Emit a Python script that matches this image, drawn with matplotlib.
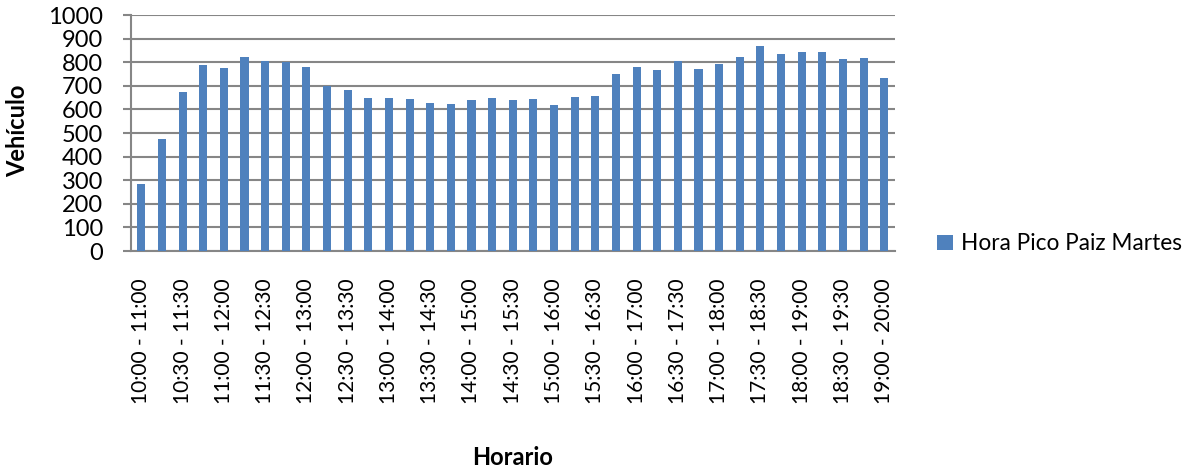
import matplotlib; matplotlib.use('Agg')
import matplotlib.pyplot as plt

categorias = ['10:00 - 11:00', '10:15 - 11:15', '10:30 - 11:30', '10:45 - 11:45',
              '11:00 - 12:00', '11:15 - 12:15', '11:30 - 12:30', '11:45 - 12:45',
              '12:00 - 13:00', '12:15 - 13:15', '12:30 - 13:30', '12:45 - 13:45',
              '13:00 - 14:00', '13:15 - 14:15', '13:30 - 14:30', '13:45 - 14:45',
              '14:00 - 15:00', '14:15 - 15:15', '14:30 - 15:30', '14:45 - 15:45',
              '15:00 - 16:00', '15:15 - 16:15', '15:30 - 16:30', '15:45 - 16:45',
              '16:00 - 17:00', '16:15 - 17:15', '16:30 - 17:30', '16:45 - 17:45',
              '17:00 - 18:00', '17:15 - 18:15', '17:30 - 18:30', '17:45 - 18:45',
              '18:00 - 19:00', '18:15 - 19:15', '18:30 - 19:30', '18:45 - 19:45',
              '19:00 - 20:00']
vehiculos = [282, 475, 675, 789, 774, 824, 804, 800, 782, 699, 684, 650, 650,
             645, 626, 623, 641, 650, 641, 645, 619, 654, 658, 750, 780, 769,
             804, 773, 794, 823, 868, 837, 844, 844, 814, 818, 735]
serie = 'Hora Pico Paiz Martes'

FONT = 'Lato'
fig = plt.figure(figsize=(11.94, 4.71), dpi=100)
ax = fig.add_axes([0.1097, 0.467, 0.6395, 0.501])

x = range(len(categorias))
ax.bar(x, vehiculos, width=0.39, color='#4F81BD', label=serie, zorder=3)

ax.set_ylim(0, 1000)
ax.set_yticks(range(0, 1001, 100))
ax.set_xlim(-0.5, len(categorias) - 0.5)
ax.set_xticks(list(x)[::2])
ax.set_xticklabels(categorias[::2], rotation=90, fontsize=15, family=FONT)
for lab in ax.get_yticklabels():
    lab.set_family(FONT); lab.set_fontsize(17)

ax.grid(True, axis='y', color='#868686', lw=1.5, zorder=0)
ax.tick_params(axis='y', length=6, width=1.5, color='#868686', pad=14)
ax.tick_params(axis='x', length=0, pad=20)
for s in ['top', 'right']:
    ax.spines[s].set_visible(False)
ax.spines['left'].set_color('#868686'); ax.spines['left'].set_linewidth(1.5)
ax.spines['bottom'].set_color('#868686'); ax.spines['bottom'].set_linewidth(1.5)

ax.set_ylabel('Vehículo', fontsize=17, fontweight='bold', family=FONT, va='center')
ax.yaxis.set_label_coords(-0.149, 0.508)
ax.set_xlabel('Horario', fontsize=17, fontweight='bold', family=FONT, va='center')
ax.xaxis.set_label_coords(0.5, -0.873)

ax.legend(loc='center left', bbox_to_anchor=(1.044, 0.03), frameon=False,
          prop={'family': FONT, 'size': 16.3}, handlelength=0.7, handleheight=0.7,
          handletextpad=0.35, borderaxespad=0)

plt.savefig('out.png', dpi=100)
